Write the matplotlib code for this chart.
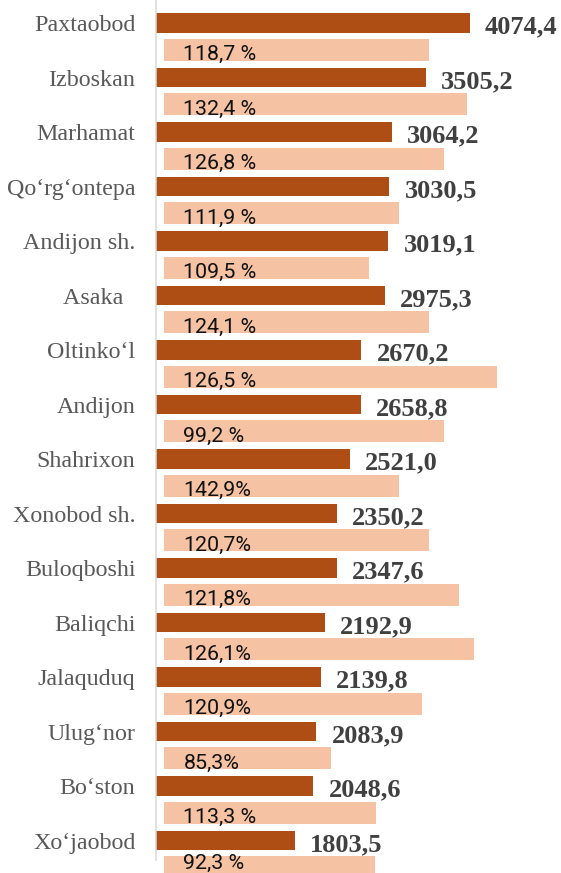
import matplotlib.pyplot as plt
import numpy as np

# districts, top to bottom
names = ['Paxtaobod', 'Izboskan', 'Marhamat', 'Qo‘rg‘ontepa', 'Andijon sh.', 'Asaka  ',
	'Oltinko‘l', 'Andijon', 'Shahrixon', 'Xonobod sh.', 'Buloqboshi', 'Baliqchi',
	'Jalaquduq', 'Ulug‘nor', 'Bo‘ston', 'Xo‘jaobod']
values = [4074.4, 3505.2, 3064.2, 3030.5, 3019.1, 2975.3, 2670.2, 2658.8,
	2521.0, 2350.2, 2347.6, 2192.9, 2139.8, 2083.9, 2048.6, 1803.5]
growth = ['118,7 %', '132,4 %', '126,8 %', '111,9 %', '109,5 %', '124,1 %', '126,5 %', '99,2 %',
	'142,9%', '120,7%', '121,8%', '126,1%', '120,9%', '85,3%', '113,3 %', '92,3 %']
# lengths of the light bars as drawn (same scale as values)
light_len = [3436, 3929, 3631, 3047, 2658, 3436, 4318, 3631,
	3047, 3436, 3825, 4020, 3345, 2165, 2749, 2736]

dark = '#AE4E14'
light = '#F5C3A3'

W, H = 561, 873
pitch = 54.5
fig = plt.figure(figsize=(W/100, H/100), dpi=100)
ax = fig.add_axes([155.5/W, 0, 1 - 155.5/W, 1])

rows = np.arange(len(names))
dark_h = 19.5/pitch
light_h = 21.7/pitch
shift = 26.7/pitch
light_left = 110

top = -23.05/pitch
bottom = (H - 23.05)/pitch

ax.barh(rows, values, height=dark_h, color=dark)
ax.barh(rows + shift, light_len, left=light_left, height=light_h, color=light)

for i in rows:
	ax.annotate(names[i], xy=(0, i + dark_h/2), xytext=(-14.4, 1.1), textcoords='offset points',
		ha='right', va='baseline', fontfamily='Liberation Serif', fontsize=17.3,
		color='#595959', annotation_clip=False)
	ax.annotate(f'{values[i]:.1f}'.replace('.', ','), xy=(values[i], i + dark_h/2),
		xytext=(11, -0.5), textcoords='offset points', ha='left', va='baseline',
		fontfamily='Liberation Serif', fontweight='bold', fontsize=19, color='#404040',
		annotation_clip=False)
	# keep the lowest label inside the picture
	base = min(i + shift + light_h/2, bottom - 3.8/pitch)
	ax.annotate(growth[i], xy=(light_left, base), xytext=(14.0, 0.3),
		textcoords='offset points', ha='left', va='baseline', fontfamily='Roboto',
		fontsize=15.4, color='#111111', annotation_clip=False)

ax.set_ylim(bottom, top)
ax.set_xlim(0, (W - 155.5)/0.07712)

for s in ['top', 'right', 'bottom']:
	ax.spines[s].set_visible(False)
ax.spines['left'].set_color('#D9D9D9')
ax.spines['left'].set_linewidth(1.1)
ax.spines['left'].set_bounds(top, (860 - 23.05)/pitch)
ax.set_xticks([])
ax.set_yticks([])

fig.savefig('out.png', dpi=100)
